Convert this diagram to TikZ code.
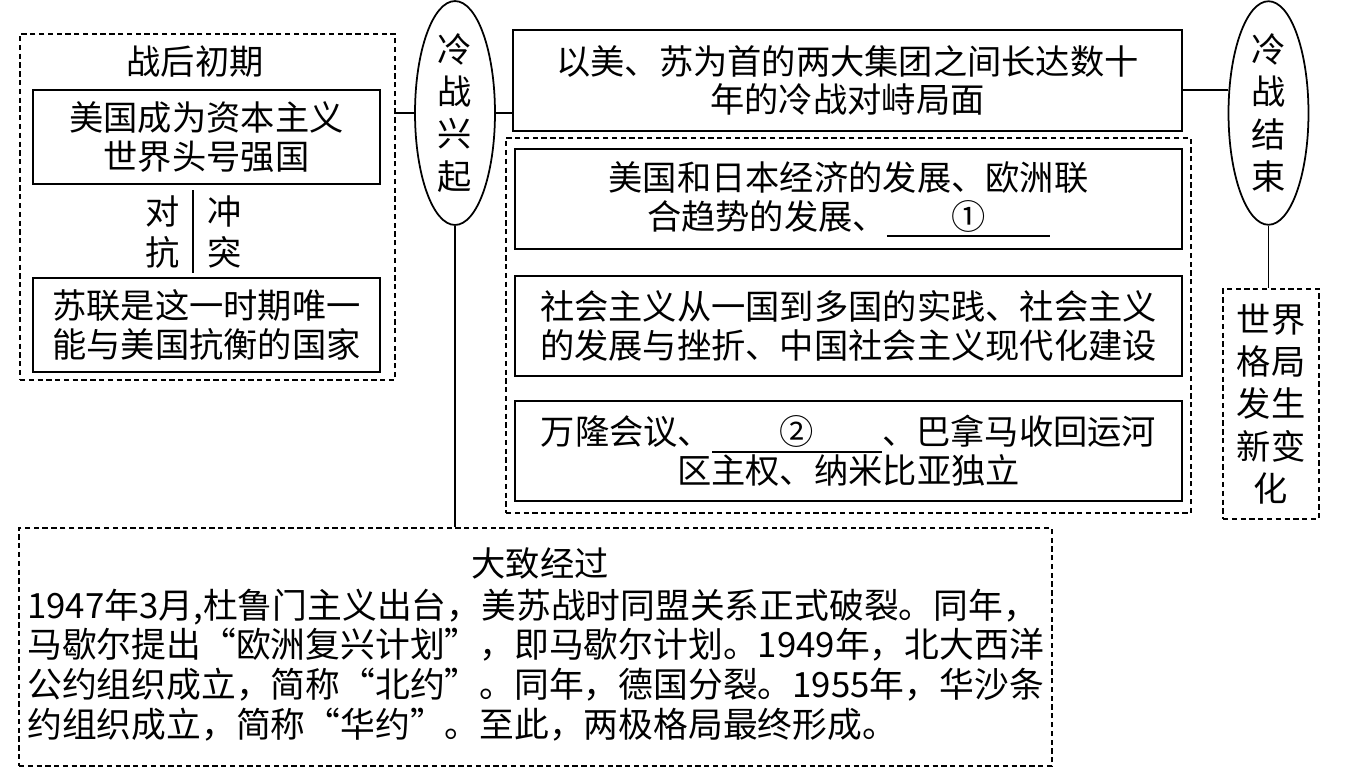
\documentclass[tikz,border=0pt]{standalone}
\usepackage{fontspec}
\usetikzlibrary{shapes.geometric,positioning}
\newfontfamily\cjk{Noto Sans CJK SC}
\newcommand{\gap}[2]{\rlap{\rule[-0.22em]{#1}{0.9pt}}\makebox[#1]{#2}}
\tikzset{
  txt/.style={font=\cjk\fontsize{19.5}{22}\selectfont, inner sep=0pt, align=center},
  sbox/.style 2 args={txt, draw, line width=1pt,
              minimum width=#1*0.02cm, minimum height=#2*0.02cm},
  dbox/.style 2 args={draw, line width=1pt, dash pattern=on 3pt off 2pt,
              minimum width=#1*0.02cm, minimum height=#2*0.02cm, inner sep=0pt},
  oval/.style={ellipse, draw, line width=1pt, inner sep=0pt, align=center,
              minimum width=1.6cm, minimum height=3.84cm,
              font=\cjk\fontsize{19.5}{24}\selectfont},
  lnk/.style={line width=1pt},
}
\begin{document}
\begin{tikzpicture}[x=0.02cm, y=-0.02cm]
  \useasboundingbox (0,0) rectangle (1353,779);
  % early postwar years
  \node[dbox={375}{346}] (early) at (207.5,207) {};
  \node[txt] (earlyttl) at (195,62) {战后初期};
  \node[sbox={347}{94}] (usa) at (206.5,137) {美国成为资本主义\\世界头号强国};
  \node[txt, font=\cjk\fontsize{19.5}{23.5}\selectfont] (duikang) at (163,232) {对\\抗};
  \node[txt, font=\cjk\fontsize{19.5}{23.5}\selectfont] (chongtu) at (225,232) {冲\\突};
  \coordinate (sepa) at (193,190);
  \coordinate (sepb) at (193,273);
  \draw[lnk] (sepa) -- (sepb);
  \node[sbox={347}{94}] (ussr) at (206.5,325) {苏联是这一时期唯一\\能与美国抗衡的国家};

  % cold war begins / ends
  \node[oval] (start) at (455,113) {冷\\战\\兴\\起};
  \node[oval, minimum height=3.92cm] (finish) at (1268.5,113) {冷\\战\\结\\束};
  \node[sbox={669}{101}] (stand) at (847.5,80.5)
       {以美、苏为首的两大集团之间长达数十\\年的冷战对峙局面};
  \draw[lnk] (early.east |- start.west) -- (start.west);
  \draw[lnk] (start.east) -- (start.east -| stand.west);
  \draw[lnk] ([yshift=-0.19cm]stand.east) -- ([yshift=-0.19cm]stand.east -| finish.west);

  % developments
  \node[dbox={685}{375}] (devs) at (848.5,325.5) {};
  \node[sbox={667}{100}] (econ) at (848.5,199)
       {美国和日本经济的发展、欧洲联\\合趋势的发展、\gap{3.26cm}{①}};
  \node[sbox={667}{100}] (social) at (848.5,326)
       {社会主义从一国到多国的实践、社会主义\\的发展与挫折、中国社会主义现代化建设};
  \node[sbox={667}{100}] (third) at (848.5,451)
       {万隆会议、\gap{3.4cm}{②}、巴拿马收回运河\\区主权、纳米比亚独立};

  % new world pattern
  \node[dbox={96}{230}, txt, font=\cjk\fontsize{19.5}{24}\selectfont] (world) at (1271,404)
       {世界\\格局\\发生\\新变\\化};
  \draw[lnk] (finish.south) -- (world.north -| finish.south);

  % course of events
  \node[dbox={1033}{238}] (course) at (535.5,647) {};
  \draw[lnk] (start.south) -- (start.south |- course.north);
  \node[txt] (coursettl) at (540,563) {大致经过};
  \node[txt, align=left, anchor=west, font=\cjk\fontsize{19.8}{22.7}\selectfont] (coursetxt) at (27,665)
       {1947年3月,杜鲁门主义出台，美苏战时同盟关系正式破裂。同年，\\
        马歇尔提出“欧洲复兴计划”，即马歇尔计划。1949年，北大西洋\\
        公约组织成立，简称“北约”。同年，德国分裂。1955年，华沙条\\
        约组织成立，简称“华约”。至此，两极格局最终形成。};
\end{tikzpicture}
\end{document}
